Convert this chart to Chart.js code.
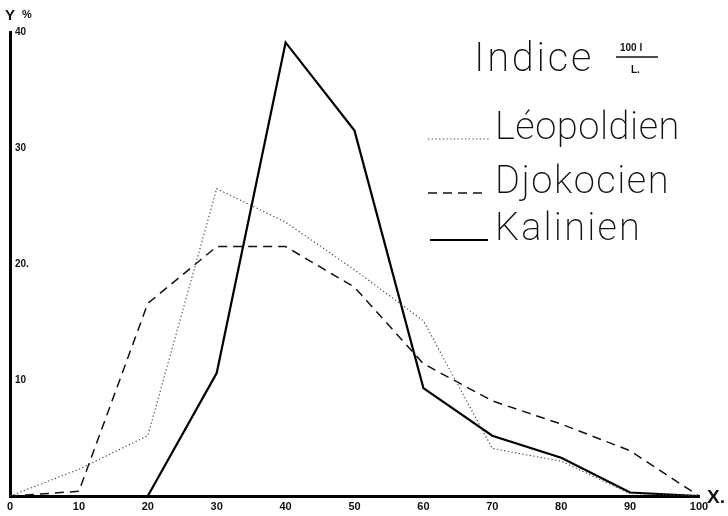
<!DOCTYPE html>
<html>
<head>
<meta charset="utf-8">
<script src="https://cdn.jsdelivr.net/npm/chart.js@4.4.0/dist/chart.umd.min.js"></script>
<style>
html, body { margin: 0; padding: 0; background: #fff; }
#wrap { width: 728px; height: 516px; }
</style>
</head>
<body>
<div id="wrap"><canvas id="myChart" width="728" height="516"></canvas></div>
<script>
// indice 100 l / L. (axe X) et pourcentages (axe Y)
const indices = [0, 10, 20, 30, 40, 50, 60, 70, 80, 90, 100];
const leopoldien = [0, 2.3, 5.2, 26.5, 23.6, 19.5, 15.1, 4.1, 3.0, 0.2, 0];
const djokocien = [0, 0.4, 16.6, 21.5, 21.5, 18.0, 11.4, 8.2, 6.2, 3.9, 0];
const kalinien = [null, null, 0, 10.6, 39.1, 31.5, 9.3, 5.2, 3.3, 0.3, 0];

const seriesNames = ['Léopoldien', 'Djokocien', 'Kalinien'];
const xTickLabels = ['0', '10', '20', '30', '40', '50', '60', '70', '80', '90', '100'];
const yTickValues = [10, 20, 30, 40];
const yTickLabels = ['10', '20.', '30', '40'];

const toPoints = (vals) => vals.map((v, i) => ({ x: indices[i], y: v }));

// texte ajusté a une largeur donnée
function fitText(ctx, text, x, y, width, font) {
    ctx.font = font;
    ctx.letterSpacing = '0px';
    const natural = ctx.measureText(text).width;
    if (natural < width) {
        ctx.letterSpacing = ((width - natural) / text.length) + 'px';
        ctx.fillText(text, x, y);
        ctx.letterSpacing = '0px';
    } else {
        ctx.save();
        ctx.translate(x, y);
        ctx.scale(width / natural, 1);
        ctx.fillText(text, 0, 0);
        ctx.restore();
    }
}

const legende = {
    id: 'legende',
    afterDraw(chart) {
        const ctx = chart.ctx;
        const ds = chart.data.datasets;
        ctx.save();
        ctx.fillStyle = '#111';
        ctx.textBaseline = 'alphabetic';
        ctx.textAlign = 'left';

        // titre
        fitText(ctx, 'Indice', 474, 71, 120, '200 40px Roboto');
        ctx.font = 'bold 10px "Liberation Sans"';
        ctx.fillText('100 l', 620, 51);
        ctx.fillText('L.', 631, 73);
        ctx.strokeStyle = '#111';
        ctx.lineWidth = 1.3;
        ctx.beginPath();
        ctx.moveTo(616, 57);
        ctx.lineTo(658, 57);
        ctx.stroke();

        // entrées
        const rows = [
            { y: 139, x0: 428, x1: 490, w: 185 },
            { y: 193, x0: 428, x1: 486, w: 175 },
            { y: 240, x0: 430, x1: 488, w: 147 }
        ];
        rows.forEach((r, i) => {
            const d = ds[i];
            ctx.save();
            ctx.strokeStyle = d.borderColor;
            ctx.lineWidth = d.borderWidth;
            ctx.setLineDash(d.borderDash || []);
            ctx.beginPath();
            ctx.moveTo(r.x0, r.y);
            ctx.lineTo(r.x1, r.y);
            ctx.stroke();
            ctx.restore();
            fitText(ctx, seriesNames[i], 495, r.y, r.w, '200 38px Roboto');
        });

        // noms des axes
        ctx.font = 'bold 15px "Liberation Sans"';
        ctx.fillText('Y', 5, 20);
        ctx.font = 'bold 11px "Liberation Sans"';
        ctx.fillText('%', 22, 18);
        ctx.font = 'bold 19px "Liberation Sans"';
        ctx.fillText('X.', 707, 503);
        ctx.restore();
    }
};

const grafico = document.getElementById('myChart');

const chart = new Chart(grafico, {
    type: 'line',
    data: {
        datasets: [{
            label: seriesNames[0],
            data: toPoints(leopoldien),
            borderColor: '#444',
            borderWidth: 1.1,
            borderDash: [1.3, 2.4]
        }, {
            label: seriesNames[1],
            data: toPoints(djokocien),
            borderColor: '#111',
            borderWidth: 1.5,
            borderDash: [9, 6]
        }, {
            label: seriesNames[2],
            data: toPoints(kalinien),
            borderColor: '#000',
            borderWidth: 2.2
        }]
    },
    options: {
        responsive: false,
        animation: false,
        devicePixelRatio: 1,
        layout: { padding: { left: 10, right: 29, top: 32, bottom: 0 } },
        elements: {
            point: { radius: 0 },
            line: { tension: 0 }
        },
        plugins: {
            legend: { display: false },
            tooltip: { enabled: false }
        },
        scales: {
            x: {
                type: 'linear',
                min: 0,
                max: 100,
                afterFit: (s) => { s.height = 20; },
                grid: { display: false, drawTicks: false },
                border: { display: true, color: '#000', width: 3 },
                ticks: {
                    stepSize: 10,
                    padding: 4,
                    maxRotation: 0,
                    color: '#111',
                    font: { family: 'Liberation Sans', weight: 'bold', size: 11 },
                    callback: (v) => {
                        const i = indices.indexOf(v);
                        return i >= 0 ? xTickLabels[i] : '';
                    }
                }
            },
            y: {
                min: 0,
                max: 40,
                afterFit: (s) => { s.width = 0; },
                grid: { display: false, drawTicks: false },
                border: { display: true, color: '#000', width: 3 },
                ticks: {
                    stepSize: 10,
                    mirror: true,
                    padding: 5,
                    color: '#111',
                    font: { family: 'Liberation Sans', weight: 'bold', size: 10 },
                    callback: (v) => {
                        const i = yTickValues.indexOf(v);
                        return i >= 0 ? yTickLabels[i] : '';
                    }
                }
            }
        }
    },
    plugins: [legende]
});
</script>
</body>
</html>
